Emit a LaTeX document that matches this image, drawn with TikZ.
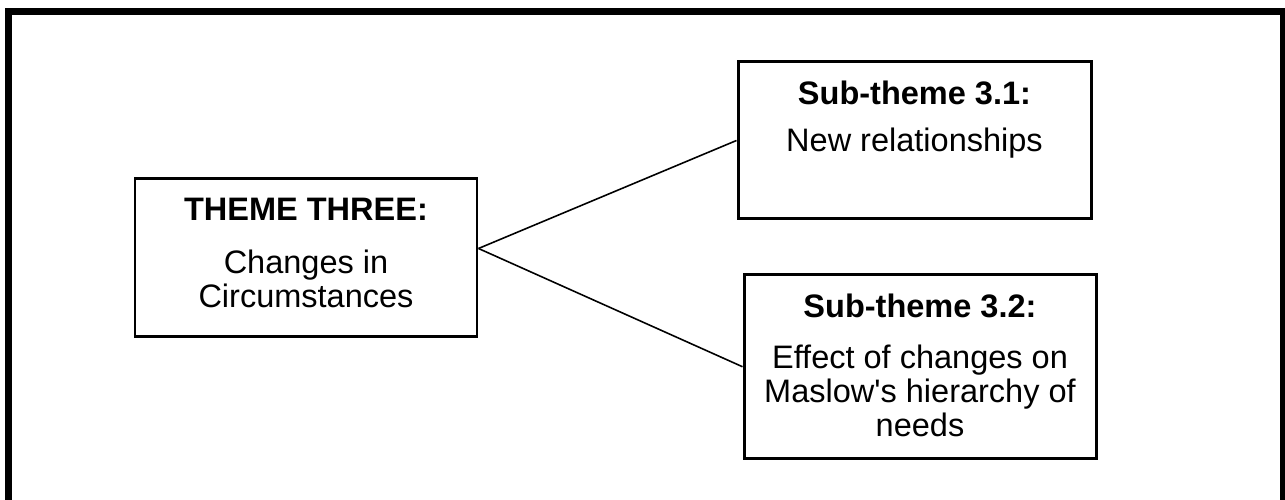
\documentclass[tikz,border=0pt]{standalone}
\usepackage{fontspec}
\setmainfont[Ligatures=NoCommon]{Liberation Sans}
% box contents: height, width, title, gap, body
\newcommand{\boxtext}[5]{\parbox[c][#1][t]{#2}{\centering\vspace*{0.19cm}\textbf{#3}\\[#4]#5}}

\begin{document}
\begin{tikzpicture}[font=\fontsize{9.25}{9.6}\selectfont,
	box/.style={draw, line width=0.85pt, inner sep=0pt, anchor=north west},
	link/.style={line width=0.45pt}]
	\useasboundingbox (0,0) rectangle (12.85,-5);
	% outer frame, open at the bottom
	\draw[line width=2pt] (0.085,-5.1) |- (12.835,-0.115) -- (12.835,-5.1);
	\node[box] (theme) at (1.335,-1.775) {\boxtext{1.58cm}{3.42cm}{THEME THREE:}{5.5pt}{Changes in\\Circumstances}};
	\node[box] (sub1) at (7.365,-0.605) {\boxtext{1.57cm}{3.53cm}{Sub-theme 3.1:}{3.7pt}{New relationships}};
	\node[box] (sub2) at (7.425,-2.735) {\boxtext{1.835cm}{3.52cm}{Sub-theme 3.2:}{5pt}{Effect of changes on\\Maslow\textquotesingle s hierarchy of\\needs}};
	\draw[link] ([yshift=0.095cm]theme.east) -- (sub1.west);
	\draw[link] ([yshift=0.095cm]theme.east) -- (sub2.west);
\end{tikzpicture}
\end{document}
